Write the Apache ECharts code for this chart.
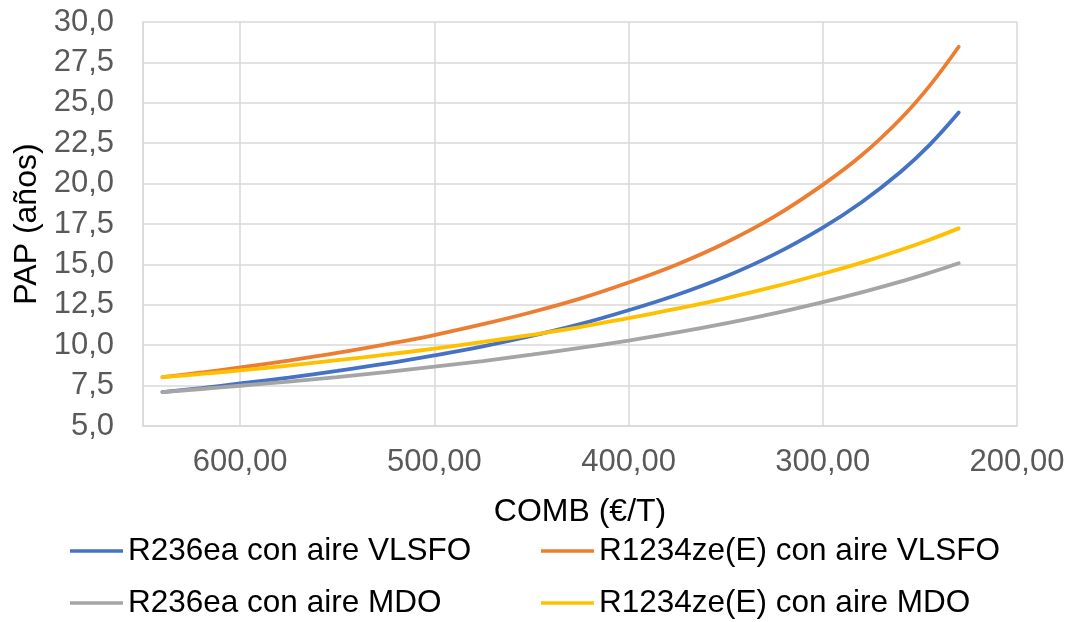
<!DOCTYPE html>
<html>
<head>
<meta charset="utf-8">
<script src="https://cdn.jsdelivr.net/npm/echarts@6/dist/echarts.min.js"></script>
<style>
  html, body { margin: 0; padding: 0; background: #fff; }
  #chart { width: 1077px; height: 622px; }
</style>
</head>
<body>
<div id="chart"></div>
<script>
// fuel price (€/T)
const comb = [640, 620, 600, 575, 550, 525, 500, 475, 450, 425, 400, 375, 350, 325, 300, 280, 260, 245, 230];

const r236VLSFO = [7.10, 7.35, 7.63, 8.00, 8.41, 8.86, 9.37, 9.93, 10.57, 11.30, 12.16, 13.12, 14.25, 15.62, 17.28, 18.85, 20.72, 22.40, 24.40];
const r1234VLSFO = [8.02, 8.31, 8.62, 9.05, 9.52, 10.05, 10.63, 11.30, 12.04, 12.88, 13.88, 15.00, 16.34, 17.95, 19.92, 21.75, 24.00, 26.05, 28.47];
const r236MDO = [7.10, 7.29, 7.49, 7.75, 8.03, 8.34, 8.67, 9.02, 9.41, 9.83, 10.29, 10.79, 11.35, 11.97, 12.67, 13.27, 13.93, 14.48, 15.07];
const r1234MDO = [8.02, 8.22, 8.44, 8.74, 9.07, 9.41, 9.79, 10.20, 10.64, 11.12, 11.68, 12.26, 12.90, 13.62, 14.42, 15.11, 15.89, 16.53, 17.23];

const names = [
  "R236ea con aire VLSFO",
  "R1234ze(E) con aire VLSFO",
  "R236ea con aire MDO",
  "R1234ze(E) con aire MDO",
];
const colors = ["#4472C4", "#ED7D31", "#A5A5A5", "#FFC000"];
const values = [r236VLSFO, r1234VLSFO, r236MDO, r1234MDO];

const font = "Liberation Sans, Arial, sans-serif";
const gridColor = "#D9D9D9";

// legend spots, Excel-like two columns
const legendLeft = [70, 541, 70, 541];
const legendTop = [535, 535, 587, 587];

const chart = echarts.init(document.getElementById("chart"));

chart.setOption({
  animation: false,
  textStyle: { fontFamily: font },
  grid: { left: 143, right: 60, top: 22, bottom: 196 },
  legend: names.map((n, i) => ({
    data: [n],
    left: legendLeft[i],
    top: legendTop[i],
    padding: 0,
    itemWidth: 53,
    itemHeight: 34,
    itemGap: 0,
    icon: "path://M0,15.5 L53,15.5 L53,19 L0,19 Z",
    textStyle: { fontSize: 31.5, color: "#000", fontFamily: font, padding: [0, 0, 0, 0] },
  })),
  xAxis: {
    type: "value",
    inverse: true,
    min: 200,
    max: 650,
    interval: 100,
    name: "COMB (€/T)",
    nameLocation: "middle",
    nameGap: 70,
    nameTextStyle: { fontSize: 32, color: "#000", fontFamily: font },
    axisLine: { show: true, lineStyle: { color: gridColor, width: 1.5 } },
    axisTick: { show: false },
    axisLabel: {
      fontSize: 31,
      color: "#595959",
      margin: 21,
      showMaxLabel: false,
      formatter: (v) => v.toFixed(2).replace(".", ","),
    },
    splitLine: { show: true, lineStyle: { color: gridColor, width: 1.5 } },
  },
  yAxis: {
    type: "value",
    min: 5,
    max: 30,
    interval: 2.5,
    name: "PAP (años)",
    nameLocation: "middle",
    nameGap: 99,
    nameTextStyle: { fontSize: 32, color: "#000", fontFamily: font },
    axisLine: { show: true, lineStyle: { color: gridColor, width: 1.5 } },
    axisTick: { show: false },
    axisLabel: {
      fontSize: 31,
      color: "#595959",
      margin: 29,
      formatter: (v) => v.toFixed(1).replace(".", ","),
    },
    splitLine: { show: true, lineStyle: { color: gridColor, width: 1.5 } },
  },
  series: values.map((vals, i) => ({
    name: names[i],
    type: "line",
    data: comb.map((c, j) => [c, vals[j]]),
    smooth: 0.4,
    showSymbol: false,
    symbol: "none",
    color: colors[i],
    lineStyle: { width: 3.8, color: colors[i], cap: "round" },
  })),
});
</script>
</body>
</html>
